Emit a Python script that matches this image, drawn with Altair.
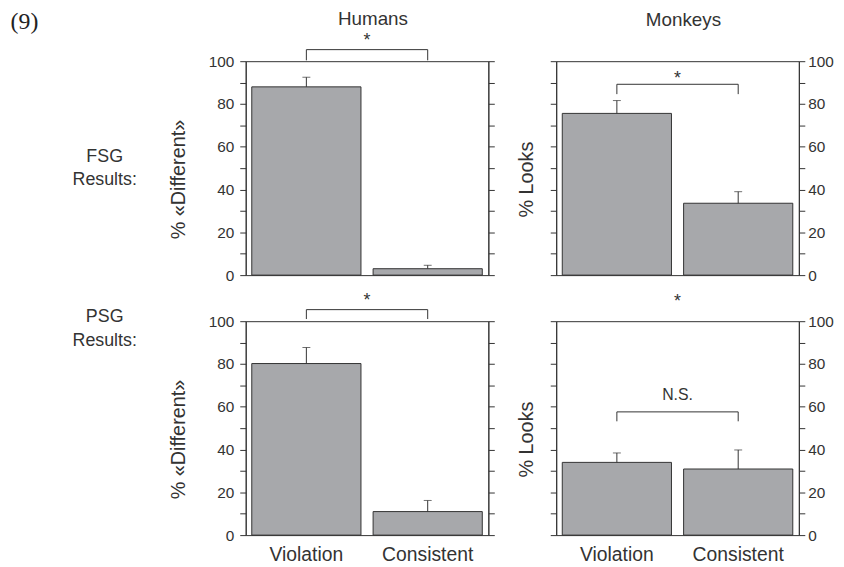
import altair as alt
import pandas as pd

# ---------------- data ----------------
categories = ["Violation", "Consistent"]

fsg_humans = [88.0, 3.0]
fsg_humans_err = [92.5, 4.6]
fsg_monkeys = [75.6, 33.6]
fsg_monkeys_err = [81.6, 39.0]
psg_humans = [80.2, 11.0]
psg_humans_err = [87.7, 16.2]
psg_monkeys = [34.0, 30.9]
psg_monkeys_err = [38.4, 39.8]

# significance brackets: label, bracket height, leg bottom, label height (data units)
fsg_humans_sig = ["*", 105.4, 100.4, 107.2]
fsg_monkeys_sig = ["*", 89.2, 84.6, 89.5]
psg_humans_sig = ["*", 105.4, 101.0, 107.1]
psg_monkeys_sig = ["N.S.", 57.6, 53.2, 65.7]
psg_monkeys_overall = "*"

row_labels = [["FSG", "Results:"], ["PSG", "Results:"]]
col_titles = ["Humans", "Monkeys"]
y_titles = ["% «Different»", "% Looks"]
figure_label = "(9)"
y_ticks = list(range(0, 101, 10))

# ---------------- styling ----------------
W, H = 245, 216
SANS = "Liberation Sans"
SERIF = "Liberation Serif"
INK = "#333333"
BAR_FILL = "#a7a8ab"
PI, PO = 0.1, 0.05
STEP = W / (len(categories) - PI + 2 * PO)
GAP_HALF = PI * STEP / 2  # half the gap between the two bands

yscale = alt.Scale(domain=[0, 100], nice=False, zero=True)


def yaxis(orient, labels, title, title_pad, label_pad):
    kw = dict(orient=orient, values=y_ticks, tickSize=6, tickColor=INK, tickWidth=1,
              domainColor=INK, domainWidth=1, grid=False)
    if labels:
        kw.update(labelExpr="datum.value % 20 == 0 ? datum.label : ''",
                  labelColor=INK, labelFont=SANS, labelFontSize=15.5, labelPadding=label_pad)
    else:
        kw.update(labels=False)
    if title:
        kw.update(title=title, titleFont=SANS, titleFontSize=20, titleFontWeight="normal",
                  titleColor=INK, titlePadding=title_pad, titleY=119)
    else:
        kw.update(title=None)
    return alt.Axis(**kw)


def panel(vals, errs, sig, left_labels, y_title, show_x, title=None):
    df = pd.DataFrame({"cat": categories, "v": vals, "e": errs})
    if show_x:
        xaxis = alt.Axis(title=None, ticks=False, domain=False, labelAngle=0, labelFont=SANS,
                         labelFontSize=19.5, labelColor=INK, labelPadding=11)
    else:
        xaxis = None
    xscale = alt.Scale(paddingInner=PI, paddingOuter=PO)

    def X(**k):
        return alt.X("cat:N", sort=categories, scale=xscale, axis=xaxis, **k)

    if left_labels:
        ax_left = yaxis("left", True, y_title, 20, 6)
        ax_right = yaxis("right", False, None, 0, 3)
    else:
        ax_left = yaxis("left", False, y_title, 13, 3)
        ax_right = yaxis("right", True, None, 0, 3)

    base = alt.Chart(df)
    bars = base.mark_bar(fill=BAR_FILL, stroke=INK, strokeWidth=1).encode(
        x=X(), y=alt.Y("v:Q", scale=yscale, axis=ax_left))
    err = base.mark_rule(color=INK, strokeWidth=1).encode(
        x=X(), y=alt.Y("v:Q", scale=yscale, axis=ax_right), y2="e:Q")
    cap = base.mark_tick(color=INK, size=8, thickness=1).encode(
        x=X(), y=alt.Y("e:Q", scale=yscale, axis=None))
    layers = [bars, err, cap]

    if sig is not None:
        label, top, leg, ly = sig
        bdf = pd.DataFrame({"cat": [categories[0], categories[0], categories[1], categories[1]],
                            "y": [leg, top, top, leg], "o": [0, 1, 2, 3]})
        bracket = alt.Chart(bdf).mark_line(color=INK, strokeWidth=1).encode(
            x=X(), y=alt.Y("y:Q", scale=yscale, axis=None), order="o:Q")
        tdf = pd.DataFrame({"cat": [categories[0]], "y": [ly], "t": [label]})
        if label == "*":
            tmark = alt.Chart(tdf).mark_text(font=SANS, fontSize=18, color=INK,
                                             baseline="alphabetic", dx=GAP_HALF)
        else:
            tmark = alt.Chart(tdf).mark_text(font=SANS, fontSize=16, color=INK,
                                             baseline="middle", dx=GAP_HALF)
        text = tmark.encode(x=X(bandPosition=1),
                            y=alt.Y("y:Q", scale=yscale, axis=None), text="t:N")
        layers += [bracket, text]

    ch = alt.layer(*layers).resolve_axis(y="independent")
    props = dict(width=W, height=H)
    if title is not None:
        props["title"] = title
    return ch.properties(**props)


def col_title(text, offset):
    return alt.TitleParams(text, font=SANS, fontSize=19, fontWeight="normal", color=INK,
                           anchor="middle", baseline="bottom", offset=offset, dx=6)


tl = panel(fsg_humans, fsg_humans_err, fsg_humans_sig, True, y_titles[0], False,
           col_title(col_titles[0], -16))
tr = panel(fsg_monkeys, fsg_monkeys_err, fsg_monkeys_sig, False, y_titles[1], False,
           col_title(col_titles[1], 6))
bl = panel(psg_humans, psg_humans_err, psg_humans_sig, True, y_titles[0], True)
br = panel(psg_monkeys, psg_monkeys_err, psg_monkeys_sig, False, y_titles[1], True,
           alt.TitleParams(psg_monkeys_overall, font=SANS, fontSize=18, fontWeight="normal",
                           color=INK, anchor="middle", baseline="alphabetic", offset=-11))


def row_title(lines, anchor, dy):
    return alt.TitleParams(lines, orient="left", angle=0, align="center", anchor=anchor,
                           baseline="middle", offset=-1, dy=dy, font=SANS, fontSize=18,
                           fontWeight="normal", color=INK, lineHeight=24)


row1 = alt.hconcat(tl, tr, spacing=21.5).properties(title=row_title(row_labels[0], "middle", 10))
row2 = alt.hconcat(bl, br, spacing=21.5).properties(title=row_title(row_labels[1], "end", 26))

chart = alt.vconcat(row1, row2, spacing=7.5).properties(
    title=alt.TitleParams(figure_label, anchor="start", font=SERIF, fontSize=24,
                          fontWeight="normal", color="#222222", dx=-62.5, offset=-25,
                          baseline="top"),
    padding={"left": 2, "top": -2, "right": 2, "bottom": 0},
).configure_view(stroke=INK, strokeWidth=1)

chart.save("out.html", embed_options={"renderer": "svg", "actions": False})
